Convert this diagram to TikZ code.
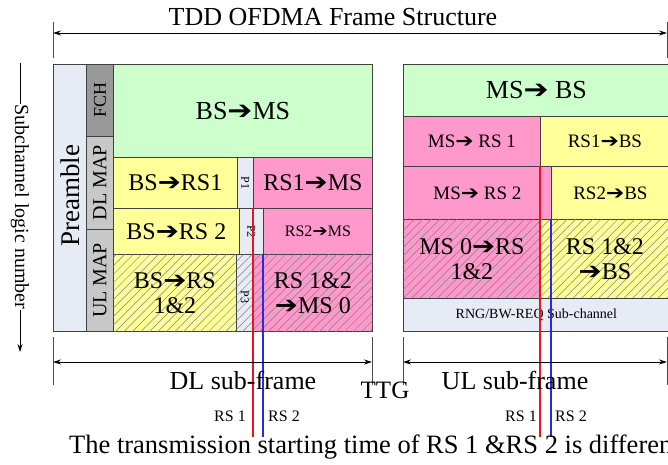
\documentclass[tikz,border=0pt]{standalone}
\usepackage{fontspec}
\usepackage{graphicx}
\setmainfont{Liberation Serif}
\newfontfamily\dejavu{DejaVu Sans}
\usetikzlibrary{patterns.meta,arrows.meta}
\newcommand\harr{{\dejavu\scalebox{1.15}[1]{➔}}}
\newcommand\fs[1]{\fontsize{#1}{#1}\selectfont}
\definecolor{cgreen}{HTML}{CCFFCC}
\definecolor{cyellow}{HTML}{FFFF99}
\definecolor{cpink}{HTML}{FF99CC}
\definecolor{cpale}{HTML}{E6EBF5}
\definecolor{cdark}{HTML}{999999}
\definecolor{cmid}{HTML}{C8C8C8}
\definecolor{cred}{HTML}{E8141E}
\definecolor{cblue}{HTML}{2828E6}
\tikzset{
  box/.style={draw=black!75, line width=0.8pt, inner sep=0pt, anchor=north west, align=center},
  hatch/.style={postaction={pattern color=black!50, pattern={Lines[angle=45,distance=6pt,line width=0.5pt]}}},
  lbl/.style={inner sep=0pt, align=center},
  dim/.style={line width=0.9pt, {Stealth[length=8pt,width=5pt]}-{Stealth[length=8pt,width=5pt]}},
  tick/.style={line width=0.9pt, black!70},
  rsline/.style={line width=1.3pt}
}
\begin{document}
\begin{tikzpicture}[x=1pt,y=-1pt]
\useasboundingbox (0,0) rectangle (668,464);
% title
\node[lbl] (title) at (333,17) {\fs{26}TDD OFDMA Frame Structure};
\coordinate (tl1) at (53,22); \coordinate (tl2) at (53,58);
\coordinate (tr1) at (667,22); \coordinate (tr2) at (667,58);
\draw[tick] (tl1) -- (tl2); \draw[tick] (tr1) -- (tr2);
\coordinate (ta) at (53,33); \coordinate (tb) at (667,33);
\draw[dim] (ta) -- (tb);
% left axis
\coordinate (ax1) at (20,63); \coordinate (ax2) at (20,352);
\draw[line width=0.9pt, -{Stealth[length=8pt,width=5pt]}] (ax1) -- (ax2);
\node[lbl, fill=white, inner sep=1pt, rotate=-90] (axl) at (20,207) {\fs{20}Subchannel logic number};
% DL frame
\node[box, fill=cpale, minimum width=33pt, minimum height=267pt] (pre) at (53,64) {};
\node[lbl, rotate=90] (pret) at ([yshift=2pt]pre.center) {\fs{27}Preamble};
\node[box, fill=cdark, minimum width=27pt, minimum height=72pt] (fch) at (86,64) {};
\node[lbl, rotate=90] (fcht) at (fch.center) {\fs{18}FCH};
\node[box, fill=cmid, minimum width=27pt, minimum height=93pt] (dlmap) at (86,136) {};
\node[lbl, rotate=90] (dlmapt) at (dlmap.center) {\fs{20}DL MAP};
\node[box, fill=cmid, minimum width=27pt, minimum height=102pt] (ulmap) at (86,229) {};
\node[lbl, rotate=90] (ulmapt) at (ulmap.center) {\fs{20}UL MAP};
\node[box, fill=cgreen, minimum width=259pt, minimum height=93pt] (bsms) at (113,64) {\fs{26}BS\harr MS};
\node[box, fill=cyellow, minimum width=124pt, minimum height=51pt] (bsrs1) at (113,157) {\fs{24}BS\harr RS1};
\node[box, fill=cpale, minimum width=16pt, minimum height=51pt] (p1) at (237,157) {};
\node[lbl, rotate=-90] (p1t) at (p1.center) {\fs{12}P1};
\node[box, fill=cpink, minimum width=119pt, minimum height=51pt] (rs1ms) at (253,157) {\fs{24}RS1\harr MS};
\node[box, fill=cyellow, minimum width=126pt, minimum height=46pt] (bsrs2) at (113,208) {\fs{24}BS\harr RS 2};
\node[box, fill=cpale, minimum width=24pt, minimum height=46pt] (p2) at (239,208) {};
\node[lbl, rotate=-90] (p2t) at (p2.center) {\fs{12}P2};
\node[box, fill=cpink, minimum width=109pt, minimum height=46pt] (rs2ms) at (263,208) {\fs{16}RS2\harr MS};
\node[box, fill=cyellow, hatch, minimum width=123pt, minimum height=77pt] (bsrs12) at (113,254) {\fs{24}BS\harr RS\\[8pt]\fs{24}1\&2};
\node[box, fill=cpale, hatch, minimum width=17pt, minimum height=77pt] (p3) at (236,254) {};
\node[lbl, rotate=-90] (p3t) at ([yshift=-4pt]p3.center) {\fs{12}P3};
\node[box, fill=cpink, hatch, minimum width=119pt, minimum height=77pt] (rs12ms) at (253,254) {\fs{24}RS 1\&2\\[8pt]\fs{24}\harr MS 0};
% UL frame
\node[box, fill=cgreen, minimum width=266pt, minimum height=52pt] (msbs) at (403,64) {\fs{26}MS\harr{} BS};
\node[box, fill=cpink, minimum width=137pt, minimum height=50pt] (msrs1) at (403,116) {\fs{19}MS\harr{} RS 1};
\node[box, fill=cyellow, minimum width=129pt, minimum height=50pt] (rs1bs) at (540,116) {\fs{19}RS1\harr BS};
\node[box, fill=cpink, minimum width=148pt, minimum height=53pt] (msrs2) at (403,166) {\fs{19}MS\harr{} RS 2};
\node[box, fill=cyellow, minimum width=118pt, minimum height=53pt] (rs2bs) at (551,166) {\fs{19}RS2\harr BS};
\node[box, fill=cpink, hatch, minimum width=137pt, minimum height=79pt] (ms0) at (403,219) {\fs{24}MS 0\harr RS\\[8pt]\fs{24}1\&2};
\node[box, fill=cyellow, hatch, minimum width=129pt, minimum height=79pt] (rs12bs) at (540,219) {\fs{24}RS 1\&2\\[8pt]\fs{24}\harr BS};
\node[box, fill=cpale, minimum width=266pt, minimum height=33pt] (rng) at (403,298) {\fs{14}RNG/BW-REQ Sub-channel};
% RS timing lines
\coordinate (dr1) at (253,208); \coordinate (dr2) at (253,437);
\coordinate (db1) at (263,254); \coordinate (db2) at (263,437);
\coordinate (ur1) at (540,166); \coordinate (ur2) at (540,437);
\coordinate (ub1) at (551,219); \coordinate (ub2) at (551,437);
\draw[rsline, cred] (dr1) -- (dr2);
\draw[rsline, cblue] (db1) -- (db2);
\draw[rsline, cred] (ur1) -- (ur2);
\draw[rsline, cblue] (ub1) -- (ub2);
% sub-frame dimension arrows
\coordinate (dl1) at (53,337); \coordinate (dl2) at (53,385);
\coordinate (dr3) at (372,337); \coordinate (dr4) at (372,385);
\coordinate (ul1) at (403,337); \coordinate (ul2) at (403,385);
\coordinate (ur3) at (667,337); \coordinate (ur4) at (667,385);
\draw[tick] (dl1) -- (dl2); \draw[tick] (dr3) -- (dr4);
\draw[tick] (ul1) -- (ul2); \draw[tick] (ur3) -- (ur4);
\coordinate (dla) at (53,362); \coordinate (dlb) at (372,362);
\coordinate (ula) at (403,362); \coordinate (ulb) at (667,362);
\draw[dim] (dla) -- (dlb);
\draw[dim] (ula) -- (ulb);
\node[lbl] (dlt) at (243,380) {\fs{26}DL sub-frame};
\node[lbl] (ttg) at (385,390) {\fs{25}TTG};
\node[lbl] (ult) at (515,380) {\fs{26}UL sub-frame};
% RS labels
\node[lbl] (drs1) at (230,416) {\fs{16}RS 1};
\node[lbl] (drs2) at (284,416) {\fs{16}RS 2};
\node[lbl] (urs1) at (521,416) {\fs{16}RS 1};
\node[lbl] (urs2) at (571,416) {\fs{16}RS 2};
\node[lbl, anchor=west] (bottom) at (69,447) {\fs{26.5}The transmission starting time of RS 1 \&RS 2 is different};
\end{tikzpicture}
\end{document}
